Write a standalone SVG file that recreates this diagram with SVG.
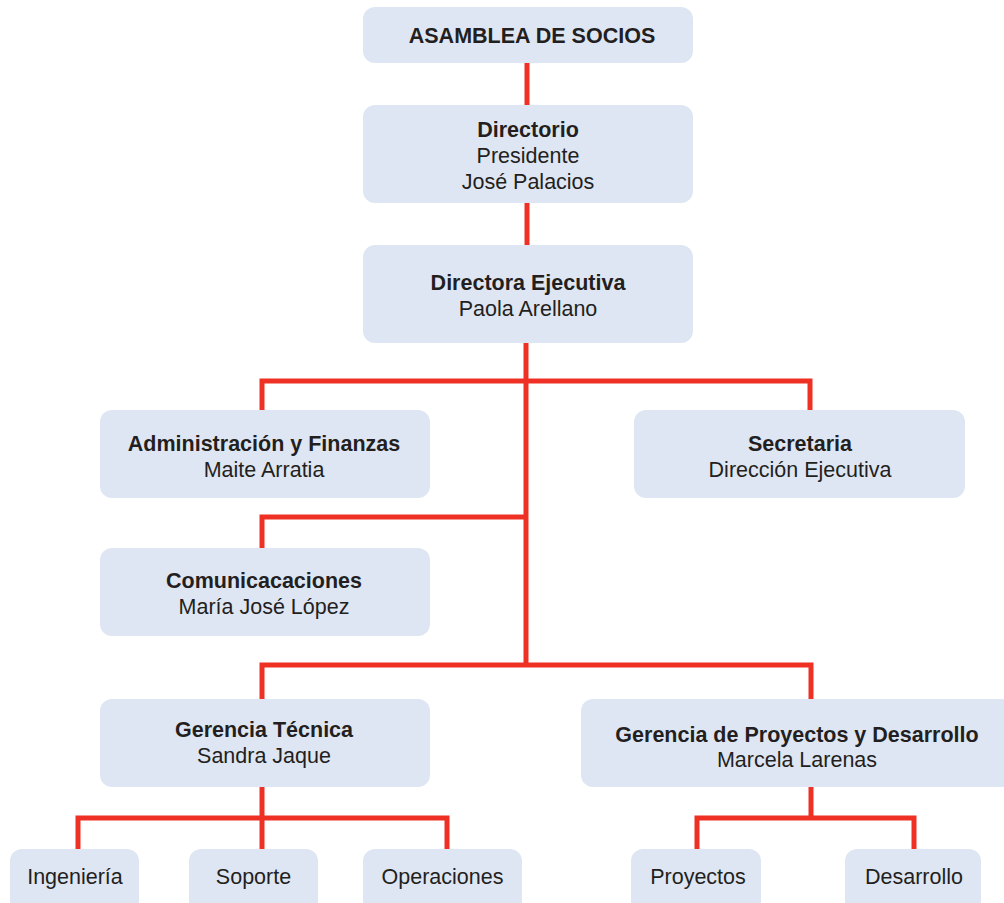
<svg xmlns="http://www.w3.org/2000/svg" width="1004" height="903" viewBox="0 0 1004 903">
<style>
.box{fill:#dfe6f3;}
.t{font-family:"Liberation Sans",Arial,sans-serif;font-size:21.5px;fill:#231f20;text-anchor:middle;}
.b{font-weight:bold;}
.c{fill:none;stroke:#ee3124;stroke-width:5;stroke-linejoin:miter;stroke-linecap:butt;}
</style>
<rect width="1004" height="903" fill="#ffffff"/>
<g id="connectors">
<path class="c" d="M527 63V105"/>
<path class="c" d="M527 203V245"/>
<path class="c" d="M526 343V665"/>
<path class="c" d="M262 410V381H810V410"/>
<path class="c" d="M262 548V517H526"/>
<path class="c" d="M262 699V665H811V699"/>
<path class="c" d="M262 787V818"/>
<path class="c" d="M78 849V818H447V849"/>
<path class="c" d="M262 818V849"/>
<path class="c" d="M811 787V818"/>
<path class="c" d="M697 849V818H914V849"/>
</g>
<g id="asamblea"><rect class="box" x="363" y="7" width="330" height="56" rx="12"/><text class="t b" x="532" y="43">ASAMBLEA DE SOCIOS</text></g>
<g id="directorio"><rect class="box" x="363" y="105" width="330" height="98" rx="12"/><text class="t b" x="528" y="137">Directorio</text><text class="t" x="528" y="163">Presidente</text><text class="t" x="528" y="189">José Palacios</text></g>
<g id="directora"><rect class="box" x="363" y="245" width="330" height="98" rx="12"/><text class="t b" x="528" y="290">Directora Ejecutiva</text><text class="t" x="528" y="316">Paola Arellano</text></g>
<g id="administracion"><rect class="box" x="100" y="410" width="330" height="88" rx="12"/><text class="t b" x="264" y="451">Administración y Finanzas</text><text class="t" x="264" y="477">Maite Arratia</text></g>
<g id="secretaria"><rect class="box" x="634" y="410" width="331" height="88" rx="12"/><text class="t b" x="800" y="451">Secretaria</text><text class="t" x="800" y="477">Dirección Ejecutiva</text></g>
<g id="comunicaciones"><rect class="box" x="100" y="548" width="330" height="88" rx="12"/><text class="t b" x="264" y="588">Comunicacaciones</text><text class="t" x="264" y="614">María José López</text></g>
<g id="gerencia-tecnica"><rect class="box" x="100" y="699" width="330" height="88" rx="12"/><text class="t b" x="264" y="737">Gerencia Técnica</text><text class="t" x="264" y="763">Sandra Jaque</text></g>
<g id="gerencia-proyectos"><rect class="box" x="581" y="699" width="432" height="88" rx="12"/><text class="t b" x="797" y="742">Gerencia de Proyectos y Desarrollo</text><text class="t" x="797" y="767">Marcela Larenas</text></g>
<g id="ingenieria"><rect class="box" x="10" y="849" width="129" height="64" rx="12"/><text class="t" x="75" y="884">Ingeniería</text></g>
<g id="soporte"><rect class="box" x="189" y="849" width="129" height="64" rx="12"/><text class="t" x="253.5" y="884">Soporte</text></g>
<g id="operaciones"><rect class="box" x="363" y="849" width="159" height="64" rx="12"/><text class="t" x="442.5" y="884">Operaciones</text></g>
<g id="proyectos"><rect class="box" x="631" y="849" width="130" height="64" rx="12"/><text class="t" x="698" y="884">Proyectos</text></g>
<g id="desarrollo"><rect class="box" x="845" y="849" width="136" height="64" rx="12"/><text class="t" x="914" y="884">Desarrollo</text></g>
</svg>
